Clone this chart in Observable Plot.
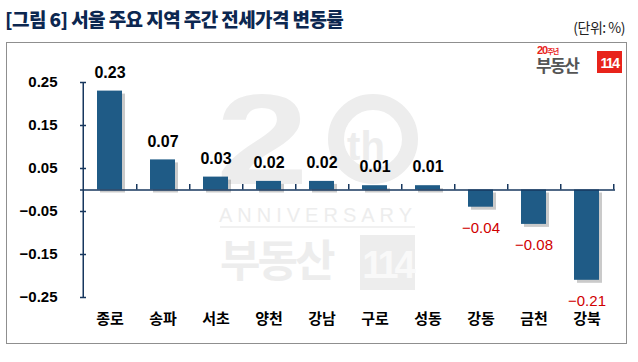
<!DOCTYPE html>
<html>
<head>
<meta charset="utf-8">
<script src="https://cdn.jsdelivr.net/npm/d3@7"></script>
<script src="https://cdn.jsdelivr.net/npm/@observablehq/plot@0.6"></script>
<style>
  html, body { margin: 0; padding: 0; background: #fff; }
  #wrap { position: relative; width: 638px; height: 362px; overflow: hidden; font-family: "Noto Sans CJK KR", "Liberation Sans", sans-serif; }
  #title { position: absolute; left: 5px; top: 5px; font-size: 19px; font-weight: 900; color: #0c2750; letter-spacing: -0.6px; white-space: nowrap; }
  #unit { position: absolute; right: 13px; top: 17px; font-size: 14px; color: #222; white-space: nowrap; letter-spacing: -0.5px; }
  #box { position: absolute; left: 6px; top: 42px; width: 619px; height: 300px; border: 1.5px solid #8f8f8f; }
  #deco { position: absolute; left: 0; top: 0; }
  #chart { position: absolute; left: 0; top: 0; }
</style>
</head>
<body>
<div id="wrap">
  <div id="title">[그림 6] 서울 주요 지역 주간 전세가격 변동률</div>
  <div id="unit">(단위: %)</div>
  <div id="box"></div>
  <svg id="deco" width="638" height="362" font-family="Liberation Sans, sans-serif">
    <g fill="#ededed" stroke="none">
      <text x="0" y="0" font-size="128" font-weight="bold" transform="translate(216,184) scale(1.3,1)">2</text>
      <text x="366" y="160" font-size="40" font-weight="bold" text-anchor="middle">th</text>
      <text x="318" y="222" font-size="20" text-anchor="middle" letter-spacing="5">ANNIVERSARY</text>
      <text x="220" y="277" font-size="44" font-weight="bold" font-family="Noto Sans CJK KR" letter-spacing="-3">부동산</text>
      <rect x="360" y="235" width="55" height="55"></rect>
      <text x="387" y="278" font-size="38" font-weight="bold" text-anchor="middle" fill="#f9f9f9" letter-spacing="-4">114</text>
    </g>
    <circle cx="373" cy="139" r="37" fill="none" stroke="#ededed" stroke-width="16"></circle>
    <line x1="220" x2="415" y1="227" y2="227" stroke="#ededed" stroke-width="1.5"></line>
    <text x="537" y="54" font-size="11" font-weight="bold" fill="#e8231b" letter-spacing="-1">20<tspan font-size="7" font-family="Noto Sans CJK KR">주년</tspan></text>
    <text x="536" y="72" font-size="17" font-weight="bold" fill="#555" font-family="Noto Sans CJK KR" letter-spacing="-1.5">부동산</text>
    <rect x="597" y="51" width="25" height="22" fill="#e8231b"></rect>
    <text x="609.5" y="68" font-size="14" font-weight="bold" fill="#fff" text-anchor="middle" letter-spacing="-1.5">114</text>
  </svg>
  <div id="chart"></div>
</div>
<script>
const regions = ["종로", "송파", "서초", "양천", "강남", "구로", "성동", "강동", "금천", "강북"];
const changes = [0.23, 0.07, 0.03, 0.02, 0.02, 0.01, 0.01, -0.04, -0.08, -0.21];
const yTicks = [0.25, 0.15, 0.05, -0.05, -0.15, -0.25];
const yTickLabels = ["0.25", "0.15", "0.05", "\u22120.05", "\u22120.15", "\u22120.25"];

const data = regions.map((r, i) => ({region: r, value: changes[i]}));
const pos = data.filter(d => d.value >= 0);
const neg = data.filter(d => d.value < 0);
const fmt = v => v < 0 ? "\u2212" + Math.abs(v).toFixed(2) : v.toFixed(2);

const W = 638, H = 362, ML = 80, MR = 23;
const halfStep = (W - ML - MR) / regions.length / 2;
const navy = "#17375e";
const barColor = "#1f5b86";
const num = "Liberation Sans, Arial, sans-serif";
const kr = "Noto Sans CJK KR, sans-serif";

const chart = Plot.plot({
  width: W,
  height: H,
  marginLeft: ML,
  marginRight: MR,
  marginTop: 82,
  marginBottom: 65,
  style: {background: "transparent", overflow: "visible"},
  x: {domain: regions, type: "band", paddingInner: 0.53, paddingOuter: 0.265, axis: null},
  y: {domain: [-0.25, 0.25], axis: null},
  marks: [
    Plot.barY(data, {x: "region", y: "value", fill: "#8a8a8a", fillOpacity: 0.45, dx: 3, dy: 3}),
    Plot.barY(data, {x: "region", y: "value", fill: barColor}),
    Plot.ruleY([0], {stroke: navy, strokeWidth: 1.5}),
    Plot.ruleX([regions[0]], {x: d => d, y1: -0.25, y2: 0.25, dx: -halfStep, stroke: navy, strokeWidth: 1.5}),
    Plot.ruleX(regions, {x: d => d, y1: 0, y2: 0.013, dx: halfStep, stroke: navy, strokeWidth: 1.5}),
    Plot.tickY(yTicks, {y: d => d, insetRight: W - ML - MR - 6, stroke: navy, strokeWidth: 1.5}),
    Plot.text(yTicks, {y: d => d, text: (d, i) => yTickLabels[i], frameAnchor: "left", textAnchor: "end", dx: -23,
      fontSize: 15, fontWeight: "bold", fontFamily: num, fill: "#000", letterSpacing: -1}),
    Plot.text(regions, {x: d => d, text: d => d, frameAnchor: "bottom", dy: 26,
      fontSize: 15, fontWeight: "bold", fontFamily: kr, fill: "#000"}),
    Plot.text(pos, {x: "region", y: "value", text: d => fmt(d.value), dy: -18.5,
      fontSize: 16, fontWeight: "bold", fontFamily: num, fill: "#000", letterSpacing: -0.5}),
    Plot.text(neg, {x: "region", y: "value", text: d => fmt(d.value), dy: 21,
      fontSize: 15, fontFamily: num, fill: "#d00000", letterSpacing: -0.5})
  ]
});
document.getElementById("chart").appendChild(chart);
</script>
</body>
</html>
